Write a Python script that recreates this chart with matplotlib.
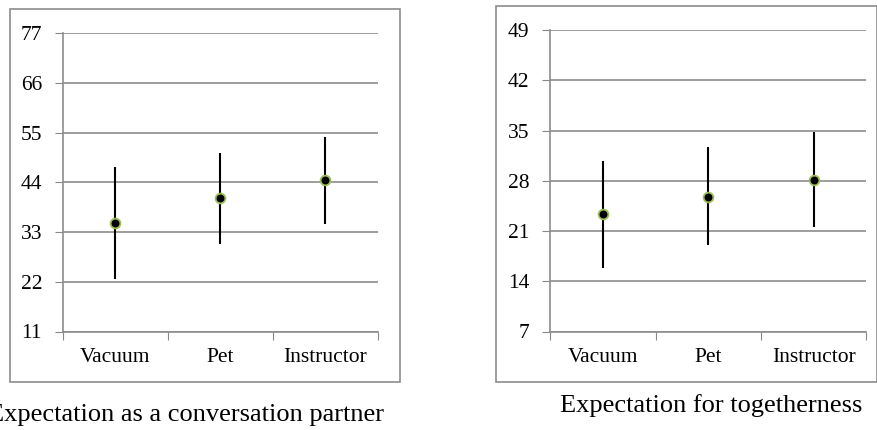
import matplotlib
matplotlib.use("Agg")
import matplotlib.pyplot as plt
from matplotlib.patches import Rectangle
import numpy as np

plt.rcParams["font.family"] = ["Liberation Serif", "DejaVu Serif"]

categories = ["Vacuum", "Pet", "Instructor"]

# left: expectation as a conversation partner
conv_mean = [35.1, 40.5, 44.4]
conv_lo = [22.6, 30.4, 34.7]
conv_hi = [47.3, 50.4, 54.0]
conv_ticks = [11, 22, 33, 44, 55, 66, 77]

# right: expectation for togetherness
tog_mean = [23.4, 25.7, 28.1]
tog_lo = [15.9, 19.0, 21.5]
tog_hi = [30.8, 32.7, 34.8]
tog_ticks = [7, 14, 21, 28, 35, 42, 49]

W, H = 878, 430
fig = plt.figure(figsize=(W / 100, H / 100), dpi=100)


def px_axes(x0, y0, x1, y1):
    return fig.add_axes([x0 / W, 1 - y1 / H, (x1 - x0) / W, (y1 - y0) / H])


def draw_panel(ax, mean, lo, hi, ticks):
    x = np.arange(len(categories)) + 0.5
    mean = np.array(mean)
    yerr = [mean - np.array(lo), np.array(hi) - mean]
    ax.errorbar(x, mean, yerr=yerr, fmt="o", color="black", ecolor="black",
                elinewidth=1.5, capsize=0, markersize=7,
                markerfacecolor="black", markeredgecolor="#9BBB59",
                markeredgewidth=1.3, zorder=3)
    ax.set_xlim(0, len(categories))
    ax.set_ylim(ticks[0], ticks[-1])
    ax.set_yticks(ticks)
    ax.set_xticks(np.arange(len(categories) + 1))
    ax.set_xticklabels([])
    ax.set_xticks(x, minor=True)
    ax.set_xticklabels(categories, minor=True)
    ax.tick_params(axis="x", which="minor", length=0, pad=12, labelsize=15.5)
    ax.tick_params(axis="x", which="major", length=6, color="#888888", direction="out")
    ax.tick_params(axis="y", length=6, color="#888888", labelsize=15.5, pad=9)
    ax.grid(axis="y", color="#8c8c8c", linewidth=1.2)
    ax.set_axisbelow(True)
    for s in ["top", "right"]:
        ax.spines[s].set_visible(False)
    for s in ["left", "bottom"]:
        ax.spines[s].set_color("#8c8c8c")
        ax.spines[s].set_linewidth(1.2)


ax1 = px_axes(63, 33, 378, 331.5)
draw_panel(ax1, conv_mean, conv_lo, conv_hi, conv_ticks)
ax2 = px_axes(550, 30, 866.5, 331.5)
draw_panel(ax2, tog_mean, tog_lo, tog_hi, tog_ticks)

# chart frames
for (x0, y0, x1, y1) in [(10, 9, 400, 381.5), (496.5, 6, 877.5, 381.5)]:
    fig.add_artist(Rectangle((x0 / W, 1 - y1 / H), (x1 - x0) / W, (y1 - y0) / H,
                             transform=fig.transFigure, fill=False,
                             edgecolor="#8c8c8c", linewidth=1.2))

fig.text(186 / W, 1 - 415 / H, "Expectation as a conversation partner",
         ha="center", va="center", fontsize=19)
fig.text(711 / W, 1 - 406 / H, "Expectation for togetherness",
         ha="center", va="center", fontsize=19)

fig.savefig("out.png", dpi=100)
